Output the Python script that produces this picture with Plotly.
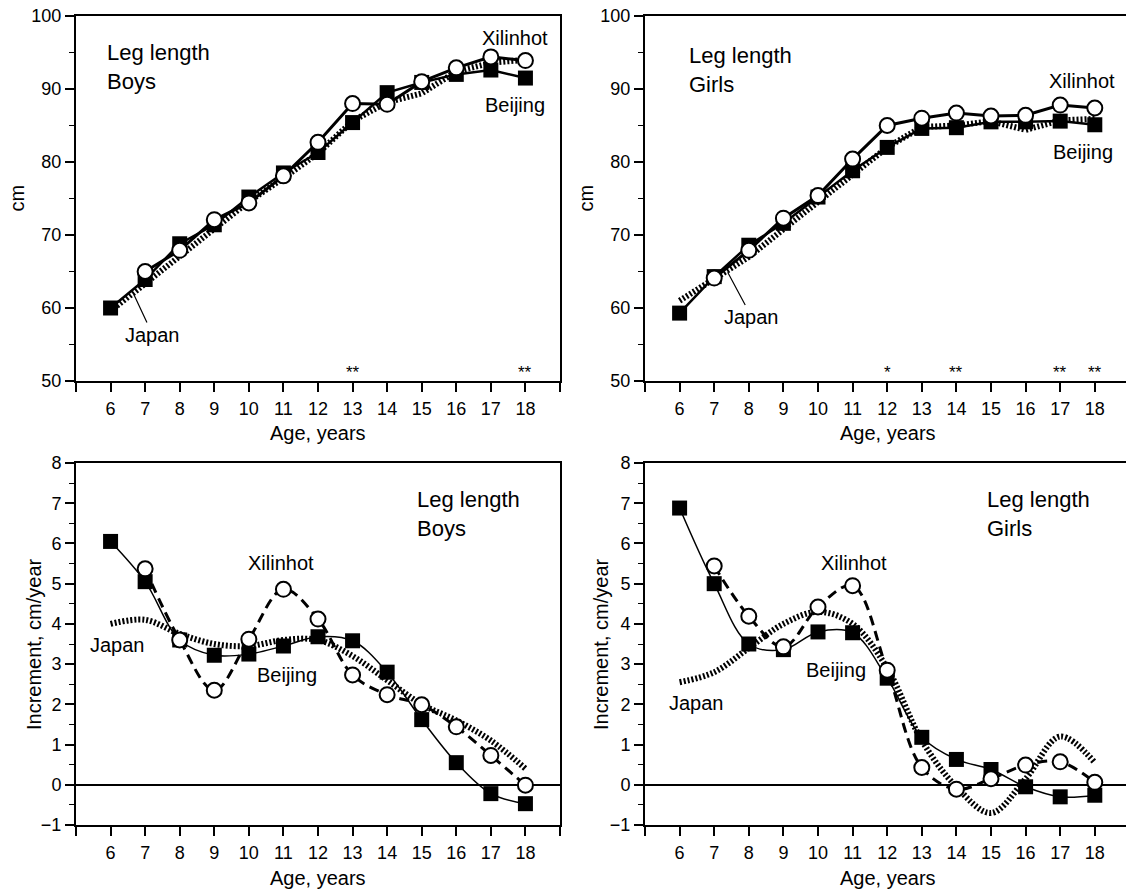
import plotly.graph_objects as go
from plotly.subplots import make_subplots

# ---------------- data ----------------
ages = list(range(6, 19))          # Beijing / Japan
ages_x = list(range(7, 19))        # Xilinhot

boys_len_beijing = [60.0, 63.9, 68.8, 71.4, 75.2, 78.5, 81.3, 85.4, 89.5, 90.9, 92.0, 92.6, 91.5]
boys_len_xilinhot = [65.0, 67.9, 72.1, 74.4, 78.1, 82.7, 88.0, 87.9, 91.0, 92.9, 94.4, 93.9]
boys_len_japan = [59.6, 63.4, 67.0, 70.8, 74.6, 77.8, 81.2, 85.6, 88.2, 89.4, 92.4, 93.6, 94.0]

girls_len_beijing = [59.3, 64.3, 68.6, 71.6, 75.2, 78.8, 82.0, 84.6, 84.7, 85.5, 85.5, 85.6, 85.1]
girls_len_xilinhot = [64.1, 67.9, 72.3, 75.4, 80.4, 85.0, 86.0, 86.7, 86.3, 86.4, 87.8, 87.4]
girls_len_japan = [61.0, 64.0, 67.0, 70.8, 74.5, 78.3, 82.0, 84.8, 85.0, 85.6, 84.4, 85.7, 85.9]

boys_inc_beijing = [6.05, 5.05, 3.6, 3.22, 3.25, 3.45, 3.68, 3.58, 2.8, 1.62, 0.55, -0.22, -0.47]
boys_inc_xilinhot = [5.37, 3.6, 2.35, 3.62, 4.86, 4.12, 2.73, 2.24, 1.99, 1.44, 0.73, -0.01]
boys_inc_japan = [4.0, 4.1, 3.75, 3.5, 3.45, 3.6, 3.6, 3.2, 2.6, 2.0, 1.6, 1.1, 0.4]

girls_inc_beijing = [6.88, 5.0, 3.5, 3.36, 3.8, 3.78, 2.65, 1.18, 0.63, 0.38, -0.05, -0.3, -0.26]
girls_inc_xilinhot = [5.44, 4.19, 3.43, 4.42, 4.95, 2.85, 0.43, -0.11, 0.15, 0.49, 0.57, 0.06]
girls_inc_japan = [2.55, 2.8, 3.4, 4.0, 4.3, 4.0, 2.9, 1.1, -0.05, -0.7, 0.15, 1.2, 0.55]

boys_sig = {13: "**", 18: "**"}
girls_sig = {12: "*", 14: "**", 17: "**", 18: "**"}

x_tick_vals = list(range(5, 20))
x_tick_text = [str(v) if 6 <= v <= 18 else "" for v in x_tick_vals]
len_ticks = [50, 60, 70, 80, 90, 100]
inc_ticks = list(range(-1, 9))

# ---------------- layout geometry ----------------
W, H = 1126, 891
FONT = "Liberation Sans, Arial, Helvetica, sans-serif"


def fx(px):
    return px / W


def fy(py):
    return 1 - py / H


left_dom = [fx(76), fx(560)]
right_dom = [fx(645), 1.0]
top_dom = [fy(381), fy(16)]
bot_dom = [fy(825), fy(463)]
right_max = 5 + (W - 645) / 34.6

fig = make_subplots(rows=2, cols=2)

JAP = dict(color="black", width=6, dash="2px,2px")


def add_panel(row, col, beijing, xilinhot, japan, smooth, beijing_w, xil_dash):
    shape = "spline" if smooth else "linear"
    fig.add_trace(go.Scatter(x=ages, y=japan, mode="lines",
                             line=dict(JAP, shape=shape), hoverinfo="skip"),
                  row=row, col=col)
    fig.add_trace(go.Scatter(x=ages, y=beijing, mode="lines+markers",
                             line=dict(color="black", width=beijing_w, shape=shape),
                             marker=dict(symbol="square", size=15, color="black")),
                  row=row, col=col)
    fig.add_trace(go.Scatter(x=ages_x, y=xilinhot, mode="lines+markers",
                             line=dict(color="black", width=3, shape=shape, dash=xil_dash),
                             marker=dict(symbol="circle", size=15, color="white",
                                         line=dict(color="black", width=2))),
                  row=row, col=col)


add_panel(1, 1, boys_len_beijing, boys_len_xilinhot, boys_len_japan, False, 2.5, "solid")
add_panel(1, 2, girls_len_beijing, girls_len_xilinhot, girls_len_japan, False, 2.5, "solid")
add_panel(2, 1, boys_inc_beijing, boys_inc_xilinhot, boys_inc_japan, True, 1.5, "10px,6px")
add_panel(2, 2, girls_inc_beijing, girls_inc_xilinhot, girls_inc_japan, True, 1.5, "10px,6px")

xaxis_common = dict(tickmode="array", tickvals=x_tick_vals, ticktext=x_tick_text,
                    ticks="outside", ticklen=9, tickwidth=1.5, tickcolor="black",
                    showline=True, linecolor="black", linewidth=2, mirror=True,
                    showgrid=False, zeroline=False, ticklabelstandoff=1, automargin=False,
                    ticklabeloverflow="allow",
                    tickfont=dict(family=FONT, size=18, color="black"))

fig.update_layout(
    xaxis=dict(xaxis_common, domain=left_dom, range=[5, 19]),
    xaxis2=dict(xaxis_common, domain=right_dom, range=[5, right_max]),
    xaxis3=dict(xaxis_common, domain=left_dom, range=[5, 19]),
    xaxis4=dict(xaxis_common, domain=right_dom, range=[5, right_max]),
)

yaxis_common = dict(ticks="outside", ticklen=9, tickwidth=1.5, tickcolor="black",
                    showline=True, linecolor="black", linewidth=2, automargin=False,
                    ticklabeloverflow="allow",
                    showgrid=False, tickfont=dict(family=FONT, size=18, color="black"))
minor_len = dict(dtick=5, ticks="outside", ticklen=5, tickcolor="black", tickwidth=1.2)
minor_inc = dict(dtick=0.5, ticks="outside", ticklen=5, tickcolor="black", tickwidth=1.2)

fig.update_layout(
    yaxis=dict(yaxis_common, domain=top_dom, range=[50, 100], tickvals=len_ticks,
               mirror=True, zeroline=False, minor=minor_len),
    yaxis2=dict(yaxis_common, domain=top_dom, range=[50, 100], tickvals=len_ticks,
                mirror=False, zeroline=False, minor=minor_len),
    yaxis3=dict(yaxis_common, domain=bot_dom, range=[-1, 8], tickvals=inc_ticks,
                mirror=True, zeroline=True, zerolinecolor="black", zerolinewidth=2,
                minor=minor_inc),
    yaxis4=dict(yaxis_common, domain=bot_dom, range=[-1, 8], tickvals=inc_ticks,
                mirror=False, zeroline=True, zerolinecolor="black", zerolinewidth=2,
                minor=minor_inc),
)

ann = []


def txt(text, x, y, xref, yref, size=20, xanchor="center", yanchor="middle", angle=0, align="center"):
    ann.append(dict(text=text, x=x, y=y, xref=xref, yref=yref, showarrow=False,
                    xanchor=xanchor, yanchor=yanchor, textangle=angle, align=align,
                    font=dict(family=FONT, size=size, color="black")))


# panel titles
txt("Leg length<br>Boys", 5.83, 93.05, "x", "y", size=22, xanchor="left", align="left")
txt("Leg length<br>Girls", 6.22, 92.6, "x2", "y2", size=22, xanchor="left", align="left")
txt("Leg length<br>Boys", 14.8, 6.72, "x3", "y3", size=22, xanchor="left", align="left")
txt("Leg length<br>Girls", 14.83, 6.72, "x4", "y4", size=22, xanchor="left", align="left")

# series labels
txt("Xilinhot", 17.7, 97.0, "x", "y")
txt("Beijing", 17.7, 87.8, "x", "y")
txt("Xilinhot", 17.62, 91.1, "x2", "y2")
txt("Beijing", 17.65, 81.4, "x2", "y2")
txt("Xilinhot", 10.93, 5.52, "x3", "y3")
txt("Beijing", 11.09, 2.73, "x3", "y3")
txt("Japan", 6.19, 3.48, "x3", "y3")
txt("Xilinhot", 11.04, 5.51, "x4", "y4")
txt("Beijing", 10.52, 2.86, "x4", "y4")
txt("Japan", 6.5, 2.04, "x4", "y4")

# Japan labels with leader lines (top panels)
for (xr, yr, tip, lab) in [("x", "y", (6.67, 61.9), (7.22, 56.3)),
                           ("x2", "y2", (7.39, 64.9), (8.09, 58.7))]:
    ann.append(dict(text="Japan", x=tip[0], y=tip[1], xref=xr, yref=yr,
                    ax=lab[0], ay=lab[1], axref=xr, ayref=yr,
                    showarrow=True, arrowhead=0, arrowwidth=1.2, arrowcolor="black",
                    standoff=0, startstandoff=0,
                    font=dict(family=FONT, size=20, color="black")))

# significance marks
for a, s in boys_sig.items():
    txt(s, a, 51.2, "x", "y", size=17)
for a, s in girls_sig.items():
    txt(s, a, 51.2, "x2", "y2", size=17)

# axis titles
top_mid = (top_dom[0] + top_dom[1]) / 2
bot_mid = (bot_dom[0] + bot_dom[1]) / 2
txt("cm", fx(16), top_mid, "paper", "paper", angle=-90)
txt("cm", fx(585), top_mid, "paper", "paper", angle=-90)
txt("Increment, cm/year", fx(34), bot_mid, "paper", "paper", angle=-90)
txt("Increment, cm/year", fx(601), bot_mid, "paper", "paper", angle=-90)
txt("Age, years", fx(318), fy(433), "paper", "paper")
txt("Age, years", fx(888), fy(433), "paper", "paper")
txt("Age, years", fx(318), fy(878), "paper", "paper")
txt("Age, years", fx(888), fy(878), "paper", "paper")

fig.update_layout(width=W, height=H, margin=dict(l=0, r=0, t=0, b=0, autoexpand=False),
                  plot_bgcolor="white", paper_bgcolor="white", showlegend=False,
                  annotations=ann, font=dict(family=FONT, color="black"))

# remove the default page margin so the figure sits at the window's top-left corner
fig.write_html("out.html", config={"displayModeBar": False},
               post_script="document.body.style.margin='0';document.body.style.overflow='hidden';")
